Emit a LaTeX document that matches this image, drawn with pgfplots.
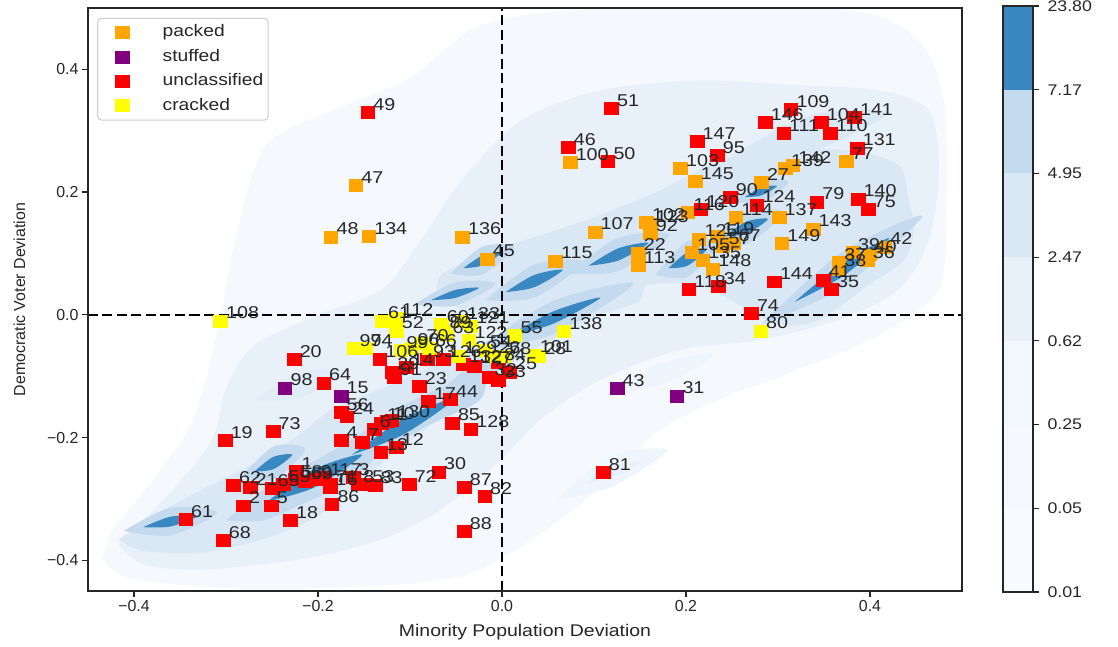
\documentclass[border=0pt]{standalone}
\usepackage{fontspec}
\setmainfont{Liberation Sans}
\newfontfamily\stretchfont{Liberation Sans}[FakeStretch=1.15]
\usepackage{pgfplots}
\usepackage{pgfplotstable}
\pgfplotsset{compat=1.18}

\definecolor{textgray}{HTML}{262626}
\definecolor{legendgray}{HTML}{CCCCCC}
\definecolor{cA}{HTML}{F5F9FE}
\definecolor{cI}{HTML}{EEF5FC}
\definecolor{cC}{HTML}{E8F1FA}
\definecolor{cP}{HTML}{E0ECF7}
\definecolor{cE}{HTML}{DAE8F5}
\definecolor{cF}{HTML}{C4DAEE}
\definecolor{cG}{HTML}{3A88C2}
\definecolor{cb1}{HTML}{F7FBFF}
\definecolor{cb2}{HTML}{F5F9FE}
\definecolor{cb3}{HTML}{F2F7FD}
\definecolor{mOrange}{HTML}{FFA500}
\definecolor{mPurple}{HTML}{800080}
\definecolor{mRed}{HTML}{FF0000}
\definecolor{mYellow}{HTML}{FFFF00}

\pgfplotstableread{
x y label
-0.159 0.211 47
-0.186 0.127 48
-0.145 0.128 134
-0.043 0.127 136
-0.016 0.091 45
0.058 0.088 115
0.101 0.135 107
0.074 0.249 100
0.157 0.151 102
0.161 0.148 123
0.161 0.133 92
0.148 0.101 22
0.148 0.081 113
0.194 0.239 103
0.210 0.218 145
0.202 0.167 116
0.282 0.216 27
0.308 0.239 139
0.316 0.244 142
0.374 0.250 77
0.254 0.159 114
0.301 0.159 137
0.338 0.140 143
0.304 0.117 149
0.214 0.124 125
0.234 0.128 119
0.240 0.112 57
0.251 0.117 67
0.206 0.102 105
0.218 0.089 135
0.229 0.075 148
0.366 0.086 37
0.366 0.075 38
0.381 0.102 39
0.399 0.098 40
0.397 0.089 36
0.416 0.111 42
}\packed

\pgfplotstableread{
x y label
-0.236 -0.119 98
-0.175 -0.132 15
0.125 -0.120 43
0.190 -0.132 31
}\stuffed

\pgfplotstableread{
x y label
-0.146 0.330 49
0.119 0.337 51
0.072 0.273 46
0.115 0.250 50
0.212 0.283 147
0.234 0.260 95
0.286 0.314 146
0.314 0.335 109
0.306 0.296 111
0.347 0.314 104
0.357 0.296 110
0.383 0.322 141
0.386 0.272 131
0.248 0.192 90
0.216 0.172 120
0.277 0.179 124
0.342 0.184 79
0.387 0.189 140
0.398 0.172 75
0.296 0.054 144
0.349 0.057 41
0.358 0.042 35
0.203 0.041 118
0.235 0.046 34
0.271 0.002 74
0.110 -0.257 81
-0.226 -0.073 20
-0.194 -0.111 64
-0.175 -0.159 56
-0.169 -0.166 24
-0.249 -0.190 73
-0.301 -0.205 19
-0.292 -0.278 62
-0.274 -0.281 21
-0.281 -0.311 2
-0.250 -0.283 65
-0.251 -0.311 5
-0.238 -0.276 59
-0.225 -0.268 58
-0.224 -0.255 1
-0.214 -0.271 69
-0.203 -0.268 9
-0.193 -0.265 117
-0.187 -0.276 71
-0.187 -0.281 16
-0.185 -0.309 86
-0.157 -0.276 8
-0.230 -0.335 18
-0.344 -0.333 61
-0.303 -0.367 68
-0.175 -0.205 4
-0.162 -0.265 3
-0.147 -0.276 53
-0.138 -0.278 83
-0.101 -0.276 72
-0.069 -0.256 30
-0.041 -0.281 87
-0.019 -0.296 82
-0.041 -0.353 88
-0.054 -0.176 85
-0.034 -0.187 128
-0.152 -0.208 7
-0.132 -0.224 13
-0.115 -0.216 12
-0.139 -0.187 6
-0.131 -0.176 11
-0.125 -0.174 10
-0.120 -0.171 130
-0.080 -0.141 17
-0.056 -0.138 44
-0.090 -0.117 23
-0.117 -0.102 91
-0.120 -0.093 29
-0.133 -0.073 106
-0.104 -0.086 14
-0.081 -0.073 93
-0.064 -0.073 126
-0.042 -0.081 132
-0.030 -0.083 127
-0.004 -0.078 84
0.008 -0.093 25
-0.014 -0.102 32
-0.004 -0.106 33
}\unclassified

\pgfplotstableread{
x y label
-0.306 -0.010 108
-0.161 -0.055 97
-0.149 -0.055 94
0.281 -0.026 80
0.014 -0.033 55
0.067 -0.027 138
0.040 -0.068 28
-0.130 -0.010 61
-0.115 -0.005 112
-0.115 -0.026 52
-0.066 -0.016 60
-0.063 -0.026 89
-0.060 -0.034 63
-0.044 -0.011 133
-0.034 -0.018 121
-0.110 -0.058 99
-0.098 -0.054 96
-0.088 -0.046 70
-0.079 -0.055 66
-0.036 -0.041 122
-0.047 -0.067 129
-0.019 -0.057 54
-0.010 -0.067 26
0.002 -0.068 78
0.035 -0.065 101
}\cracked

\begin{document}
\begin{tikzpicture}
\begin{axis}[
  name=ax,
  scale only axis,
  width=874bp, height=583bp,
  xmin=-0.45, xmax=0.5, ymin=-0.45, ymax=0.5,
  xtick={-0.4,-0.2,0,0.2,0.4},
  xticklabels={−0.4,−0.2,0.0,0.2,0.4},
  ytick={-0.4,-0.2,0,0.2,0.4},
  yticklabels={−0.4,−0.2,0.0,0.2,0.4},
  tick pos=left, tick align=outside,
  major tick length=6bp,
  every tick/.style={textgray, line width=1.25bp},
  axis line style={textgray, line width=1.25bp},
  axis on top,
  ticklabel style={font=\fontsize{16}{18}\selectfont, text=textgray},
  xlabel={Minority Population Deviation},
  ylabel={Democratic Voter Deviation},
  xlabel style={font=\stretchfont\fontsize{17}{20}\selectfont, text=textgray},
  ylabel style={font=\fontsize{16}{19}\selectfont, text=textgray},
  xlabel shift=6bp,
  ylabel shift=15bp,
  legend style={at={(rel axis cs:0.0105,0.983)}, anchor=north west,
    draw=legendgray, line width=1bp, rounded corners=4bp, fill=white,
    font=\stretchfont\fontsize{16.8}{20}\selectfont, text=textgray,
    inner xsep=3bp, inner ysep=4.5bp, row sep=4.9bp,
    nodes={inner ysep=2bp, text height=12bp, text depth=3.5bp}},
  legend cell align=left,
  legend image code/.code={\path[draw=none,fill=none] (-22bp,-6bp) rectangle (38bp,6bp); \draw[#1] plot coordinates {(0bp,0bp)};},
  mark size=6.8bp,
]
% ---- density contours (outer to inner)
\addplot[forget plot, fill=cA, draw=none, smooth] coordinates {(-0.434,-0.398) (-0.401,-0.431) (-0.271,-0.447) (-0.109,-0.439) (-0.023,-0.415) (0.064,-0.333) (0.129,-0.252) (0.172,-0.187) (0.237,-0.138) (0.323,-0.089) (0.410,-0.033) (0.475,0.041) (0.483,0.187) (0.480,0.350) (0.453,0.447) (0.377,0.496) (0.107,0.499) (-0.023,0.472) (-0.101,0.385) (-0.185,0.333) (-0.259,0.272) (-0.292,0.109) (-0.309,-0.024) (-0.336,-0.171) (-0.379,-0.268) (-0.423,-0.350) (-0.434,-0.398)};
\addplot[forget plot, fill=cI, draw=none, smooth] coordinates {(0.06,-0.30) (0.12,-0.23) (0.18,-0.22) (0.12,-0.28) (0.06,-0.30)};
\addplot[forget plot, fill=cC, draw=none, smooth] coordinates {(0.09,-0.275) (0.12,-0.245) (0.15,-0.24) (0.12,-0.265) (0.09,-0.275)};
\addplot[forget plot, fill=cI, draw=none, smooth] coordinates {(0.12,-0.13) (0.17,-0.08) (0.23,-0.065) (0.18,-0.11) (0.12,-0.13)};
\addplot[forget plot, fill=cC, draw=none, smooth] coordinates {(-0.417,-0.374) (-0.358,-0.285) (-0.315,-0.203) (-0.300,-0.120) (-0.270,-0.050) (-0.200,0.000) (-0.131,0.041) (-0.088,0.122) (-0.044,0.220) (0.021,0.317) (0.107,0.366) (0.215,0.382) (0.323,0.374) (0.410,0.366) (0.464,0.333) (0.475,0.236) (0.464,0.122) (0.431,0.041) (0.366,-0.008) (0.280,-0.041) (0.194,-0.057) (0.107,-0.106) (0.042,-0.171) (-0.001,-0.236) (-0.066,-0.317) (-0.131,-0.366) (-0.217,-0.398) (-0.325,-0.415) (-0.390,-0.407) (-0.417,-0.374)};
\addplot[forget plot, fill=cP, draw=none, smooth] coordinates {(-0.27,-0.14) (-0.22,-0.095) (-0.17,-0.09) (-0.22,-0.135) (-0.27,-0.14)};
\addplot[forget plot, fill=cE, draw=none, smooth] coordinates {(-0.417,-0.366) (-0.347,-0.301) (-0.282,-0.252) (-0.228,-0.203) (-0.185,-0.154) (-0.142,-0.127) (-0.088,-0.093) (-0.044,-0.060) (-0.001,-0.033) (0.042,0.0) (0.107,0.041) (0.150,0.065) (0.150,0.024) (0.107,0.0) (0.053,-0.041) (-0.001,-0.089) (-0.034,-0.130) (-0.077,-0.179) (-0.120,-0.228) (-0.163,-0.285) (-0.206,-0.333) (-0.261,-0.366) (-0.325,-0.387) (-0.390,-0.385) (-0.417,-0.366)};
\addplot[forget plot, fill=cE, draw=none, smooth] coordinates {(-0.071,0.033) (-0.066,0.065) (-0.023,0.098) (0.042,0.130) (0.107,0.163) (0.172,0.203) (0.237,0.252) (0.302,0.268) (0.377,0.268) (0.431,0.244) (0.442,0.187) (0.448,0.138) (0.437,0.089) (0.399,0.049) (0.345,-0.008) (0.302,-0.016) (0.258,0.016) (0.215,0.049) (0.161,0.049) (0.107,0.024) (0.053,-0.008) (-0.001,-0.016) (-0.044,0.008) (-0.071,0.033)};
\addplot[forget plot, fill=cE, draw=none, smooth] coordinates {(0.25,0.26) (0.335,0.325) (0.42,0.33) (0.335,0.265) (0.25,0.26)};
% medium
\addplot[forget plot, fill=cF, draw=none, smooth] coordinates {(-0.411,-0.352) (-0.3605,-0.3144) (-0.310,-0.322) (-0.3605,-0.3596) (-0.411,-0.352)};
\addplot[forget plot, fill=cF, draw=none, smooth] coordinates {(-0.283,-0.264) (-0.2485,-0.2145) (-0.214,-0.219) (-0.2485,-0.2685) (-0.283,-0.264)};
\addplot[forget plot, fill=cF, draw=none, smooth] coordinates {(-0.30,-0.335) (-0.25,-0.275) (-0.20,-0.235) (-0.16,-0.20) (-0.11,-0.15) (-0.06,-0.115) (-0.02,-0.10) (-0.025,-0.14) (-0.08,-0.18) (-0.13,-0.225) (-0.17,-0.275) (-0.22,-0.31) (-0.26,-0.335) (-0.30,-0.335)};
\addplot[forget plot, fill=cF, draw=none, smooth] coordinates {(-0.032,-0.060) (0.0555,0.0225) (0.143,0.051) (0.0555,-0.0315) (-0.032,-0.060)};
\addplot[forget plot, fill=cF, draw=none, smooth] coordinates {(-0.08,-0.14) (-0.03,-0.08) (0.02,-0.06) (-0.03,-0.12) (-0.08,-0.14)};
\addplot[forget plot, fill=cF, draw=none, smooth] coordinates {(-0.095,0.017) (-0.051,0.053) (-0.007,0.051) (-0.051,0.015) (-0.095,0.017)};
\addplot[forget plot, fill=cF, draw=none, smooth] coordinates {(-0.056,0.067) (-0.0215,0.1111) (0.013,0.110) (-0.0215,0.0659) (-0.056,0.067)};
\addplot[forget plot, fill=cF, draw=none, smooth] coordinates {(-0.018,0.024) (0.035,0.082) (0.088,0.086) (0.035,0.028) (-0.018,0.024)};
\addplot[forget plot, fill=cF, draw=none, smooth] coordinates {(0.071,0.067) (0.1265,0.1255) (0.182,0.130) (0.1265,0.0715) (0.071,0.067)};
\addplot[forget plot, fill=cF, draw=none, smooth] coordinates {(0.167,0.0655) (0.2015,0.120) (0.236,0.1165) (0.2015,0.062) (0.167,0.0655)};
\addplot[forget plot, fill=cF, draw=none, smooth] coordinates {(0.2255,0.118) (0.2655,0.169) (0.3055,0.166) (0.2655,0.115) (0.2255,0.118)};
\addplot[forget plot, fill=cF, draw=none, smooth] coordinates {(0.252,0.186) (0.2815,0.220) (0.311,0.216) (0.2815,0.182) (0.252,0.186)};
\addplot[forget plot, fill=cF, draw=none, smooth] coordinates {(0.282,-0.015) (0.3695,0.102) (0.457,0.161) (0.3695,0.044) (0.282,-0.015)};
% dark
\addplot[forget plot, fill=cG, draw=none, smooth] coordinates {(-0.390,-0.346) (-0.3605,-0.329) (-0.331,-0.328) (-0.3605,-0.345) (-0.390,-0.346)};
\addplot[forget plot, fill=cG, draw=none, smooth] coordinates {(-0.269,-0.255) (-0.2485,-0.2315) (-0.228,-0.228) (-0.2485,-0.2515) (-0.269,-0.255)};
\addplot[forget plot, fill=cG, draw=none, smooth] coordinates {(-0.255,-0.304) (-0.2035,-0.251) (-0.152,-0.228) (-0.2035,-0.281) (-0.255,-0.304)};
\addplot[forget plot, fill=cG, draw=none, smooth] coordinates {(-0.163,-0.228) (-0.1065,-0.1685) (-0.050,-0.135) (-0.1065,-0.1945) (-0.163,-0.228)};
\addplot[forget plot, fill=cG, draw=none, smooth] coordinates {(0.004,-0.037) (0.0555,0.0055) (0.107,0.028) (0.0555,-0.0145) (0.004,-0.037)};
\addplot[forget plot, fill=cG, draw=none, smooth] coordinates {(-0.077,0.024) (-0.051,0.0405) (-0.025,0.044) (-0.051,0.0275) (-0.077,0.024)};
\addplot[forget plot, fill=cG, draw=none, smooth] coordinates {(-0.042,0.076) (-0.0215,0.0965) (-0.001,0.101) (-0.0215,0.0805) (-0.042,0.076)};
\addplot[forget plot, fill=cG, draw=none, smooth] coordinates {(0.004,0.037) (0.035,0.065) (0.066,0.073) (0.035,0.045) (0.004,0.037)};
\addplot[forget plot, fill=cG, draw=none, smooth] coordinates {(0.094,0.080) (0.1265,0.1085) (0.159,0.117) (0.1265,0.0885) (0.094,0.080)};
\addplot[forget plot, fill=cG, draw=none, smooth] coordinates {(0.181,0.076) (0.2015,0.102) (0.222,0.106) (0.2015,0.080) (0.181,0.076)};
\addplot[forget plot, fill=cG, draw=none, smooth] coordinates {(0.242,0.128) (0.2655,0.152) (0.289,0.156) (0.2655,0.132) (0.242,0.128)};
\addplot[forget plot, fill=cG, draw=none, smooth] coordinates {(0.264,0.192) (0.2815,0.2075) (0.299,0.210) (0.2815,0.1945) (0.264,0.192)};
\addplot[forget plot, fill=cG, draw=none, smooth] coordinates {(0.318,0.021) (0.3695,0.084) (0.421,0.125) (0.3695,0.062) (0.318,0.021)};

% ---- markers
\addplot[only marks, mark=square*, color=mOrange, mark options={yscale=0.88}] table[x=x,y=y] {\packed};
\addlegendentry{packed}
\addplot[only marks, mark=square*, color=mPurple, mark options={yscale=0.88}] table[x=x,y=y] {\stuffed};
\addlegendentry{stuffed}
\addplot[only marks, mark=square*, color=mRed, mark options={yscale=0.88}] table[x=x,y=y] {\unclassified};
\addlegendentry{unclassified}
\addplot[only marks, mark=square*, color=mYellow, mark options={yscale=0.88}] table[x=x,y=y] {\cracked};
\addlegendentry{cracked}

% ---- reference lines
\addplot[forget plot, black, line width=2.6bp, dash pattern=on 10bp off 4.5bp] coordinates {(-0.45,0) (0.5,0)};
\addplot[forget plot, black, line width=2.6bp, dash pattern=on 10bp off 4.5bp] coordinates {(0,-0.45) (0,0.5)};

% ---- point labels
\pgfplotsset{lbl/.style={forget plot, draw=none, mark=none, nodes near coords, point meta=explicit symbolic,
  every node near coord/.style={anchor=base west, xshift=5.5bp, yshift=2bp, inner sep=0pt,
  font=\stretchfont\fontsize{17.2}{20}\selectfont, text=textgray}}}
\addplot[lbl] table[x=x,y=y,meta=label] {\packed};
\addplot[lbl] table[x=x,y=y,meta=label] {\stuffed};
\addplot[lbl] table[x=x,y=y,meta=label] {\unclassified};
\addplot[lbl] table[x=x,y=y,meta=label] {\cracked};
\end{axis}

\begin{axis}[
  at={(ax.north east)}, anchor=north west, xshift=41bp, yshift=2bp,
  scale only axis, width=30bp, height=586bp,
  xmin=0, xmax=1, ymin=0, ymax=7,
  xtick=\empty,
  ytick={0,1,2,3,4,5,6,7},
  yticklabels={0.01,0.05,0.25,0.62,2.47,4.95,7.17,23.80},
  ytick pos=right, yticklabel pos=right, tick align=outside,
  major tick length=6bp,
  every tick/.style={textgray, line width=1.25bp},
  axis line style={textgray, line width=1.25bp},
  axis on top,
  ticklabel style={font=\stretchfont\fontsize{15.5}{18}\selectfont, text=textgray},
  yticklabel style={xshift=5bp},
]
\addplot[fill=cb1, draw=none] coordinates {(0,0) (1,0) (1,1) (0,1)};
\addplot[fill=cb2, draw=none] coordinates {(0,1) (1,1) (1,2) (0,2)};
\addplot[fill=cb3, draw=none] coordinates {(0,2) (1,2) (1,3) (0,3)};
\addplot[fill=cC, draw=none] coordinates {(0,3) (1,3) (1,4) (0,4)};
\addplot[fill=cE, draw=none] coordinates {(0,4) (1,4) (1,5) (0,5)};
\addplot[fill=cF, draw=none] coordinates {(0,5) (1,5) (1,6) (0,6)};
\addplot[fill=cG, draw=none] coordinates {(0,6) (1,6) (1,7) (0,7)};
\end{axis}
\pgfresetboundingbox
\path ([xshift=-88bp,yshift=-56bp]ax.south west) rectangle ([xshift=156bp,yshift=8bp]ax.north east);
\end{tikzpicture}
\end{document}
